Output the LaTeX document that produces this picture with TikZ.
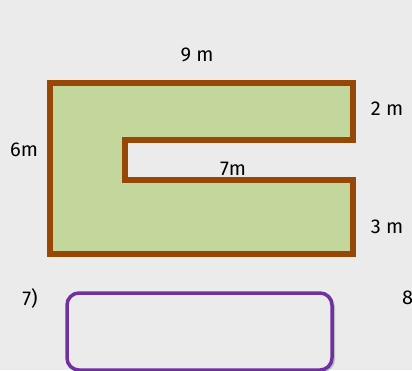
\documentclass[tikz,border=0pt]{standalone}
\usepackage{fontspec}
\setmainfont{Fira Sans}
\definecolor{bg}{HTML}{EBEBEB}
\definecolor{shapefill}{HTML}{C3D69B}
\definecolor{shapeline}{HTML}{974806}
\definecolor{boxline}{HTML}{7030A0}
\tikzset{
  lbl/.style={font=\fontsize{20}{24}\selectfont, text=black, inner sep=0pt},
  outline/.style={draw=shapeline, fill=shapefill, line width=6.5pt, line join=miter},
  answerbox/.style={draw=boxline, line width=3.5pt, rounded corners=12pt}
}
\begin{document}
\begin{tikzpicture}[x=1pt,y=-1pt]
\clip (0,0) rectangle (412,370);
\fill[bg] (0,0) rectangle (412,370);
% C-shaped figure
\draw[outline] (50,83) -- (353,83) -- (353,140) -- (125,140) -- (125,180)
  -- (353,180) -- (353,254) -- (50,254) -- cycle;
% labels
\node[lbl] (top) at (197,55) {9 m};
\node[lbl] (right1) at (387,109) {2 m};
\node[lbl] (left) at (24,150) {6m};
\node[lbl] (inner) at (233,169) {7m};
\node[lbl] (right2) at (387,227) {3 m};
\node[lbl] (q7) at (30,298) {7)};
\node[lbl,anchor=west] (q8) at (402,298) {8};
% answer box with faint shadow
\fill[black!25, rounded corners=12pt] (69,295) rectangle (335,372);
\draw[answerbox, fill=bg] (67,293) rectangle (332,370);
\end{tikzpicture}
\end{document}
